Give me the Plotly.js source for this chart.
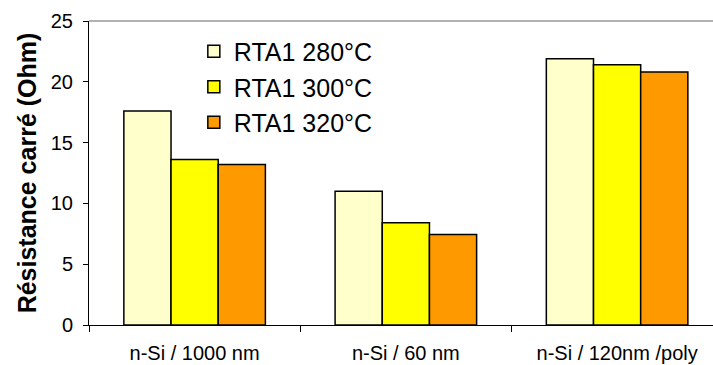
<!DOCTYPE html>
<html>
<head>
<meta charset="utf-8">
<script src="https://cdn.plot.ly/plotly-3.0.1.min.js"></script>
<style>html,body{margin:0;padding:0;background:#fff;}#chart{width:713px;height:365px;}</style>
</head>
<body>
<div id="chart"></div>
<script>
const categories = ["n-Si / 1000 nm", "n-Si / 60 nm", "n-Si / 120nm /poly"];
const seriesNames = ["RTA1 280°C", "RTA1 300°C", "RTA1 320°C"];
const rta280 = [17.6, 11.0, 21.9];
const rta300 = [13.6, 8.4, 21.4];
const rta320 = [13.2, 7.45, 20.8];
const yTicks = [0, 5, 10, 15, 20, 25];

const colors = ["#FFFFCC", "#FFFF00", "#FF9900"];
const values = [rta280, rta300, rta320];

const traces = values.map((v, i) => ({
  type: "bar",
  name: seriesNames[i],
  x: categories,
  y: v,
  marker: { color: colors[i], line: { color: "#000", width: 1.5 } }
}));

const layout = {
  width: 713, height: 365,
  margin: { l: 89, r: 0, t: 21, b: 40 },
  paper_bgcolor: "#fff", plot_bgcolor: "#fff",
  barmode: "group",
  bargap: 0.33,
  bargroupgap: 0,
  font: { family: "Liberation Sans, Arial, sans-serif", color: "#000" },
  showlegend: true,
  legend: {
    x: 0.168, y: 0.975, xanchor: "left", yanchor: "top",
    bgcolor: "rgba(0,0,0,0)",
    font: { size: 25, color: "#000" },
    traceorder: "normal"
  },
  xaxis: {
    type: "category",
    range: [-0.5, 2.454],
    showline: true, linecolor: "#000", linewidth: 1,
    ticks: "outside", ticklen: 6, tickcolor: "#000", tickson: "boundaries",
    showgrid: false, zeroline: false,
    tickfont: { size: 20, color: "#000" },
    ticklabelstandoff: 10
  },
  yaxis: {
    range: [0, 25],
    tickvals: yTicks,
    showline: true, linecolor: "#000", linewidth: 1,
    ticks: "outside", ticklen: 5, tickcolor: "#000",
    showgrid: false, zeroline: false,
    tickfont: { size: 20, color: "#000" },
    ticklabelstandoff: 6,
    title: { text: "Résistance carré (Ohm)", font: { size: 25, color: "#000", weight: "bold" }, standoff: 7 }
  },
  shapes: [{
    type: "line", xref: "paper", yref: "paper", x0: 0, x1: 1, y0: 1, y1: 1,
    line: { color: "#999", width: 1.5 }
  }]
};

Plotly.newPlot("chart", traces, layout, { staticPlot: true, displayModeBar: false });
</script>
</body>
</html>
